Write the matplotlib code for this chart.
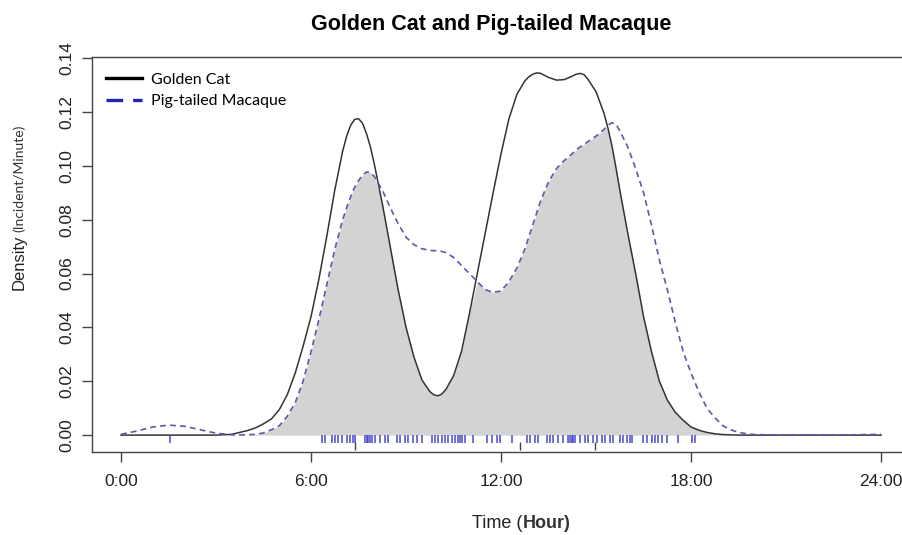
import matplotlib
matplotlib.use('Agg')
import matplotlib.pyplot as plt
import numpy as np

# density curves (hour, density)
hours = [0, 0.5, 1, 1.5, 2, 2.5, 3, 3.5,
         4, 4.25, 4.5, 4.75, 5, 5.25, 5.5, 5.75,
         6, 6.25, 6.5, 6.75, 7, 7.125, 7.25, 7.375,
         7.5, 7.625, 7.75, 7.875, 8, 8.25, 8.5, 8.75,
         9, 9.25, 9.5, 9.75, 9.875, 10, 10.125, 10.25,
         10.5, 10.75, 11, 11.25, 11.5, 11.75, 12, 12.25,
         12.5, 12.75, 12.875, 13, 13.125, 13.25, 13.5, 13.75,
         14, 14.25, 14.375, 14.5, 14.625, 14.75, 15, 15.25,
         15.375, 15.5, 15.625, 15.75, 16, 16.25, 16.5, 16.75,
         17, 17.25, 17.5, 17.75, 18, 18.25, 18.5, 18.75,
         19, 19.25, 19.5, 19.75, 20, 20.5, 21, 22,
         23, 24]

golden_cat = [0, 0, 0, 0, 0, 0, 0, 0.0003,
              0.0017, 0.0027, 0.0042, 0.006, 0.0095, 0.015, 0.023, 0.033,
              0.044, 0.058, 0.074, 0.091, 0.1055, 0.111, 0.115, 0.1172,
              0.1175, 0.1158, 0.112, 0.107, 0.1005, 0.086, 0.070, 0.054,
              0.040, 0.029, 0.0205, 0.0162, 0.015, 0.0146, 0.0152, 0.0168,
              0.022, 0.031, 0.045, 0.060, 0.075, 0.090, 0.1045, 0.1175,
              0.1265, 0.1315, 0.133, 0.134, 0.1345, 0.1343, 0.1328, 0.1318,
              0.132, 0.1333, 0.134, 0.1343, 0.1338, 0.132, 0.1275, 0.1195,
              0.114, 0.1075, 0.0995, 0.091, 0.075, 0.060, 0.044, 0.031,
              0.020, 0.013, 0.0085, 0.0055, 0.003, 0.0018, 0.001, 0.0005,
              0.0002, 0.0001, 0, 0, 0, 0, 0, 0,
              0, 0]

macaque = [0.0003, 0.0015, 0.003, 0.0037, 0.0033, 0.002, 0.0007, 0.0001,
           0.0001, 0.0003, 0.0008, 0.002, 0.0035, 0.007, 0.012, 0.020,
           0.031, 0.043, 0.056, 0.069, 0.080, 0.0845, 0.0885, 0.092,
           0.0945, 0.0965, 0.0977, 0.0975, 0.096, 0.091, 0.0845, 0.0785,
           0.0735, 0.0707, 0.0692, 0.0686, 0.0685, 0.0684, 0.0682, 0.0678,
           0.066, 0.063, 0.060, 0.057, 0.054, 0.053, 0.0535, 0.057,
           0.062, 0.069, 0.0735, 0.078, 0.0825, 0.087, 0.094, 0.099,
           0.102, 0.1045, 0.106, 0.107, 0.108, 0.109, 0.111, 0.1135,
           0.115, 0.116, 0.1155, 0.113, 0.107, 0.099, 0.090, 0.078,
           0.065, 0.054, 0.042, 0.031, 0.023, 0.016, 0.010, 0.0065,
           0.0035, 0.002, 0.001, 0.0005, 0.0002, 0.0001, 0.0001, 0.0001,
           0.0001, 0.0003]

# rug records (hour)
macaque_obs = [1.55, 6.34, 6.44, 6.65, 6.76, 6.86, 6.97, 7.13, 7.23, 7.34, 7.39,
               7.70, 7.76, 7.81, 7.86, 7.92, 8.02, 8.18, 8.34, 8.44, 8.71, 8.81,
               8.97, 9.07, 9.23, 9.34, 9.49, 9.81, 9.91, 10.02, 10.13, 10.23, 10.34,
               10.44, 10.55, 10.65, 10.70, 10.76, 10.86, 11.12, 11.55, 11.71, 11.86,
               11.97, 12.34, 12.81, 12.91, 13.07, 13.18, 13.44, 13.55, 13.65, 13.81,
               13.97, 14.12, 14.18, 14.23, 14.28, 14.34, 14.49, 14.65, 14.76, 14.91,
               15.02, 15.18, 15.28, 15.44, 15.55, 15.76, 15.86, 15.97, 16.07, 16.13,
               16.49, 16.60, 16.76, 16.86, 16.97, 17.07, 17.23, 17.60, 18.02, 18.12]
golden_cat_obs = [7.39, 12.60, 14.97]

xticks = [0, 6, 12, 18, 24]
xlabels = ['0:00', '6:00', '12:00', '18:00', '24:00']
yticks = [0.00, 0.02, 0.04, 0.06, 0.08, 0.10, 0.12, 0.14]

h = np.array(hours)
gc = np.array(golden_cat)
pm = np.array(macaque)
assert len(h) == len(gc) == len(pm)

fig = plt.figure(figsize=(9.02, 5.35), dpi=100)
ax = fig.add_axes([0.102, 0.155, 0.918, 0.738])

ax.fill_between(h, 0, np.minimum(gc, pm), color='#d3d3d3', lw=0)
ax.plot(h, gc, color='#333333', lw=1.1)
ax.plot(h, pm, color='#5a5aa8', lw=1.2, dashes=(3.5, 2.5))

ax.vlines(macaque_obs, -0.0030, 0.0, color='#3333cc', lw=1.3, alpha=0.75)
ax.vlines(golden_cat_obs, -0.0055, -0.0025, color='#444444', lw=1.0)

# legend like the R one
ax.plot([], [], color='black', lw=2.4, label='Golden Cat')
ax.plot([], [], color='#2222bb', lw=2.4, dashes=(5, 3), label='Pig-tailed Macaque')
handles, labels = ax.get_legend_handles_labels()
leg = ax.legend(handles[-2:], labels[-2:], loc='upper left', frameon=False,
                prop={'family': 'Lato', 'size': 11.5}, handlelength=2.3,
                borderaxespad=0.45, labelspacing=0.45, handletextpad=0.55,
                bbox_to_anchor=(0.0, 0.995))

ax.set_xlim(-0.916, 25.23)
ax.set_ylim(-0.0063, 0.1403)
ax.set_xticks(xticks)
ax.set_xticklabels(xlabels)
ax.set_yticks(yticks)
ax.set_yticklabels(['%.2f' % v for v in yticks], rotation=90, va='center')

for s in ax.spines.values():
    s.set_color('#444444')
    s.set_linewidth(1.0)
ax.tick_params(axis='both', length=7, width=1.0, color='#444444',
               labelsize=12.5, labelcolor='#222222')
ax.tick_params(axis='x', pad=9)
ax.tick_params(axis='y', pad=6)
for lab in ax.get_xticklabels() + ax.get_yticklabels():
    lab.set_family('Liberation Sans')

fig.text(0.544, 0.955, 'Golden Cat and Pig-tailed Macaque', ha='center', va='center',
         family='Liberation Sans', fontweight='bold', fontsize=15.5)
fig.text(0.579, 0.022, 'Time (', ha='right', va='center', family='Liberation Sans',
         fontsize=13, color='#222222')
fig.text(0.579, 0.022, 'Hour)', ha='left', va='center', family='Liberation Sans',
         fontsize=13, fontweight='bold', color='#333333')
fig.text(0.021, 0.562, 'Density', ha='center', va='top', rotation=90,
         family='Liberation Sans', fontsize=12, color='#222222')
fig.text(0.021, 0.566, '(Incident/Minute)', ha='center', va='bottom', rotation=90,
         family='Lato', fontsize=10, color='#333333')

fig.savefig('out.png', dpi=100)
